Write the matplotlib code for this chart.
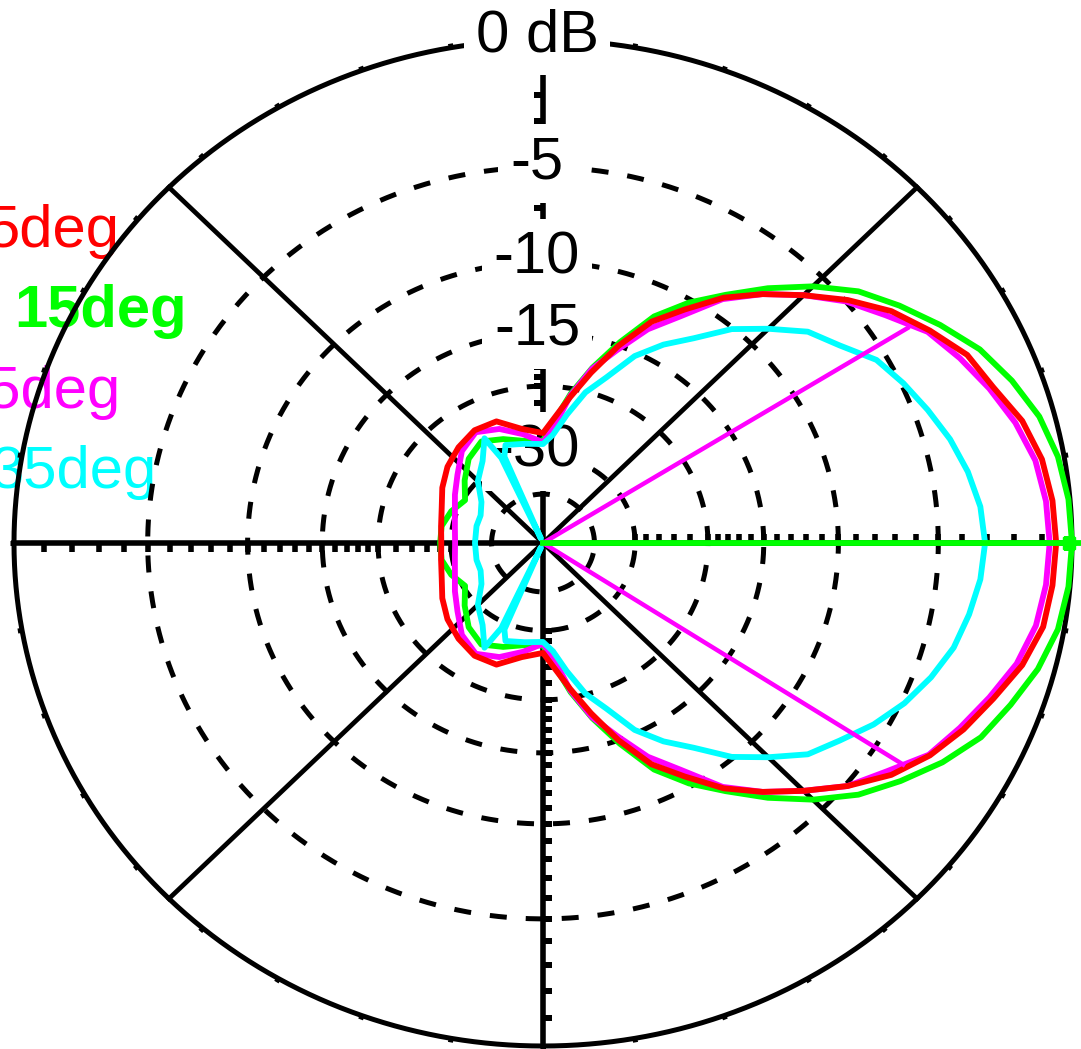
import numpy as np
import matplotlib
matplotlib.use("Agg")
import matplotlib.pyplot as plt
from matplotlib.path import Path
from matplotlib.transforms import ScaledTranslation

W, H = 1081, 1049

# azimuth patterns: angle in degrees (ccw from east), gain in dB (0 dB = peak)
ang = [0, 5, 10, 15, 20, 25, 30, 35, 40, 45, 50, 55, 60, 65, 70, 75, 80, 85, 90,
       100, 110, 120, 130, 140, 150, 160, 170, 180,
       190, 200, 210, 220, 230, 240, 250, 260, 270, 275, 280, 285, 290,
       295, 300, 305, 310, 315, 320, 325, 330, 335, 340, 345, 350, 355, 360]

green_db = [0.0, -0.05, -0.2, -0.5, -1.0, -1.6, -2.45, -3.35, -4.3, -5.6, -7.1,
            -8.7, -10.2, -12.0, -14.7, -17.5, -20.6, -24.2, -27.3,
            -27.1, -26.0, -25.0, -26.1, -28.2, -30.4, -29.0, -28.1, -28.1,
            -28.1, -29.0, -30.4, -28.2, -26.1, -25.0, -26.0, -27.1, -27.3,
            -24.2, -20.6, -17.5, -14.7, -12.0, -10.2, -8.7, -7.1, -5.6, -4.3,
            -3.3, -2.35, -1.55, -1.05, -0.55, -0.2, -0.05, 0.0]

red_db = [-0.52, -0.58, -0.74, -1.1, -1.7, -2.1, -2.9, -3.75, -4.9, -6.2, -7.5,
          -8.9, -10.7, -12.4, -15.0, -18.0, -21.0, -23.8, -26.1,
          -25.2, -23.3, -23.2, -23.9, -24.8, -26.0, -27.3, -28.0, -28.3,
          -28.0, -27.3, -26.0, -24.8, -23.9, -23.2, -23.3, -25.2, -26.1,
          -23.8, -21.0, -18.0, -15.0, -12.4, -10.7, -8.9, -7.5, -6.2, -4.9,
          -3.75, -2.9, -2.25, -1.7, -1.1, -0.7, -0.58, -0.52]

magenta_db = [-0.74, -0.8, -0.97, -1.35, -1.85, -2.4, -3.0, -4.05, -5.0, -6.2,
              -7.5, -9.0, -11.2, -13.0, -15.4, -17.6, -20.8, -25.2, -27.6,
              -26.0, -24.4, -23.5, -24.6, -26.7, -28.3, -29.7, -30.5, -30.8,
              -30.5, -29.7, -28.3, -26.7, -24.6, -23.5, -24.4, -26.0, -27.6,
              -25.2, -20.8, -17.6, -15.4, -13.0, -11.2, -9.0, -7.5, -6.2, -4.9,
              -4.0, -2.95, -2.4, -1.85, -1.3, -0.95, -0.8, -0.74]

cyan_ang = [0, 5, 10, 15, 20, 25, 30, 35, 40, 45, 50, 55, 60, 65, 70, 75, 80,
            85, 90, 100, 110, 113, 114, 115, 118, 125, 135, 145, 155, 165, 180,
            195, 205, 215, 225, 235, 242, 245, 246, 247, 250, 260, 270,
            275, 280, 285, 290, 295, 300, 305, 310, 315, 320, 325, 330,
            335, 340, 345, 350, 355, 360]

cyan_db = [-3.08, -3.2, -3.5, -3.9, -4.4, -4.9, -5.45, -6.5, -7.3, -8.7, -10.1,
           -12.0, -13.5, -15.3, -18.0, -20.1, -23.2, -26.3, -27.9,
           -27.6, -27.0, -28.8, -80.0, -28.8, -24.8, -27.7, -30.0, -33.5,
           -35.0, -35.0, -35.2,
           -35.0, -35.0, -33.5, -30.0, -27.7, -24.8, -28.8, -80.0, -28.8,
           -27.0, -27.6, -27.9, -26.3, -23.2, -20.1, -18.0, -15.3, -13.5,
           -12.0, -10.1, -8.7, -7.3, -6.5, -5.6, -4.85, -4.25, -3.75, -3.45,
           -3.2, -3.08]

# -3 dB beamwidth lines of the 25deg trace, cursor on the 15deg peak
bw_ang = [31.8, -32.9]
bw_db = [-3.6, -3.6]
cursor_ang = 0
cursor_db = -0.1

trace_labels = ['5deg', '15deg', '25deg', '35deg']
trace_colors = ['#ff0000', '#00ff00', '#ff00ff', '#00ffff']

ring_db = [-5, -10, -15, -20, -30, -40]
label_db = [0, -5, -10, -15, -30]
label_txt = ['0 dB', '-5', '-10', '-15', '-30']
tick_db = list(range(-1, -21, -1)) + list(range(-22, -31, -2))

FONT = ['Liberation Sans', 'DejaVu Sans']


def arrl(db):
    # ARRL log scale: radius shrinks by 0.89 every 2 dB
    return 0.89 ** (-np.asarray(db, dtype=float) / 2.0)


fig = plt.figure(figsize=(W / 100, H / 100), dpi=100, facecolor='white')

cx, cy = 543, H - 543
rx, ry = 529, 503
rmax = 1.03
ax = fig.add_axes([(cx - rx * rmax) / W, (cy - ry * rmax) / H,
                   2 * rx * rmax / W, 2 * ry * rmax / H], projection='polar')
ax.set_aspect('auto')
ax.set_ylim(0, rmax)
ax.set_xticks([])
ax.set_yticks([])
ax.grid(False)
ax.spines['polar'].set_visible(False)
ax.patch.set_visible(False)

full = np.linspace(0, 2 * np.pi, 1441)

# outer circle with small ticks every 10 deg
ax.plot(full, np.ones_like(full), color='k', lw=3.6, zorder=2)
ax.vlines(np.radians(np.arange(0, 360, 10)), 1.0, 1.008, color='k', lw=3.6, zorder=2)

# dashed dB rings
for db in ring_db:
    ax.plot(full, np.full_like(full, arrl(db)), color='k', lw=3.6,
            dashes=(3.4, 3.8), zorder=2)

# diagonal spokes
for a in (45, 135, 225, 315):
    ax.plot([np.radians(a)] * 2, [0, 1], color='k', lw=3.4, zorder=2)

# main axes with 1 dB ticks on the ccw side
tick_marks = {0: Path([(0, 0), (0, 1)]), 90: Path([(0, 0), (-1, 0)]),
              180: Path([(0, 0), (0, -1)]), 270: Path([(0, 0), (1, 0)])}
for a, mk in tick_marks.items():
    t = np.radians(a)
    ax.plot([t, t], [0, 1], color='k', lw=4.0, zorder=2)
    ax.plot(np.full(len(tick_db), t), arrl(tick_db), ls='none', marker=mk,
            ms=13, mew=4, mec='k', mfc='none', zorder=2)

# dB labels on the upward axis
off = ScaledTranslation(-6 / 100, 4 / 100, fig.dpi_scale_trans)
for s, db in zip(label_txt, label_db):
    ax.text(np.pi / 2, arrl(db), s, transform=ax.transData + off,
            ha='center', va='center', fontsize=43, family=FONT,
            bbox=dict(boxstyle='square,pad=0.2', fc='white', ec='none'),
            zorder=3, clip_on=False)

# traces
ax.plot(np.radians(ang), arrl(green_db), color=trace_colors[1], lw=4.2, zorder=4)
ax.plot(np.radians(ang), arrl(magenta_db), color=trace_colors[2], lw=4.2, zorder=4)
ax.plot(np.radians(ang), arrl(red_db), color=trace_colors[0], lw=4.2, zorder=4)
ax.plot(np.radians(cyan_ang), arrl(cyan_db), color=trace_colors[3], lw=4.2, zorder=4)

for a, d in zip(bw_ang, bw_db):
    ax.plot([np.radians(a)] * 2, [0, arrl(d)], color=trace_colors[2], lw=3.2, zorder=4)

ax.plot([np.radians(cursor_ang)] * 2, [0, rmax], color=trace_colors[1], lw=4.2, zorder=5)
ax.plot([np.radians(cursor_ang)], [arrl(cursor_db)], marker='s', ms=9,
        color=trace_colors[1], zorder=5)

# legend text at the left edge (partly cut off)
leg_pos = [(120, 247), (187, 327), (120, 408), (157, 488)]
leg_weight = ['normal', 'bold', 'normal', 'normal']
for s, c, (x, y), w in zip(trace_labels, trace_colors, leg_pos, leg_weight):
    ax.text(x / W, 1 - y / H, s, transform=fig.transFigure, ha='right',
            va='baseline', color=c, fontsize=43, fontweight=w, family=FONT,
            zorder=1, clip_on=False)

fig.savefig('out.png', dpi=100, facecolor='white')
